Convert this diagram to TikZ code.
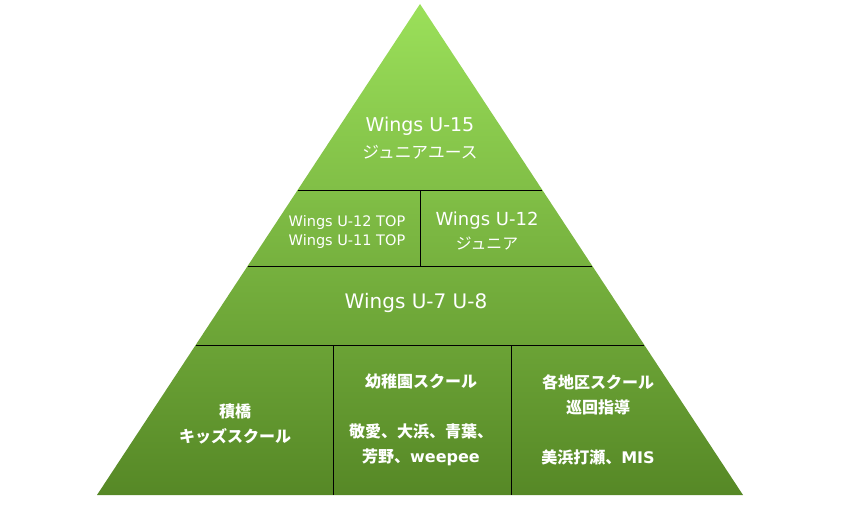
\documentclass[tikz,border=0pt]{standalone}
\usepackage{fontspec}
\setmainfont{DejaVu Sans}
\newfontfamily\jp[Scale=0.88]{Noto Sans CJK JP}
\newfontfamily\jpbase{Noto Sans CJK JP}
\usetikzlibrary{calc,positioning}

\definecolor{topgreen}{RGB}{155,224,90}
\definecolor{basegreen}{RGB}{86,136,38}

\tikzset{
    tier/.style = {text=white, align=center, inner sep=0pt, font=\fontsize{19}{27}\selectfont},
    tiersmall/.style = {tier, font=\fontsize{14.5}{19.5}\selectfont},
    basetier/.style = {tier, font=\bfseries\fontsize{16}{25}\selectfont},
    divider/.style = {black, line width=0.8pt}
}

\begin{document}
\begin{tikzpicture}[x=1pt,y=-1pt]

    \useasboundingbox (0,0) rectangle (843,508);

    \coordinate (apex) at (420,4);
    \coordinate (bl) at (97,495);
    \coordinate (br) at (743,495);

    \shade[top color=topgreen, bottom color=basegreen] (apex) -- (br) -- (bl) -- cycle;

    % horizontal dividers
    \draw[divider] ($(apex)!0.3788!(bl)$) coordinate (l1) -- ($(apex)!0.3788!(br)$) coordinate (r1);
    \draw[divider] ($(apex)!0.5336!(bl)$) coordinate (l2) -- ($(apex)!0.5336!(br)$) coordinate (r2);
    \draw[divider] ($(apex)!0.6945!(bl)$) coordinate (l3) -- ($(apex)!0.6945!(br)$) coordinate (r3);

    % vertical dividers
    \draw[divider] (420,190) -- (420,266);
    \draw[divider] (333,345) -- (333,495);
    \draw[divider] (511,345) -- (511,495);

    \node[tier] (u15) at (420,138) {Wings U-15\\{\jp ジュニアユース}};
    \node[tiersmall] (top) at (347,232) {Wings U-12 TOP\\Wings U-11 TOP};
    \node[tier, font=\fontsize{18}{24}\selectfont] (u12) at (487,231) {Wings U-12\\{\jp ジュニア}};
    \node[tier, font=\fontsize{20}{27}\selectfont] (u7) at (416,303) {Wings U-7 U-8};

    \node[basetier] (kids) at (235,424) {\jpbase 積橋\\\jpbase キッズスクール};
    \node[basetier] (yochien) at (421,420) {\jpbase 幼稚園スクール\\[25pt]\jpbase 敬愛、大浜、青葉、\\{\jpbase 芳野、}weepee};
    \node[basetier] (chiku) at (598,420) {\jpbase 各地区スクール\\\jpbase 巡回指導\\[25pt]{\jpbase 美浜打瀬、}MIS};

\end{tikzpicture}
\end{document}
